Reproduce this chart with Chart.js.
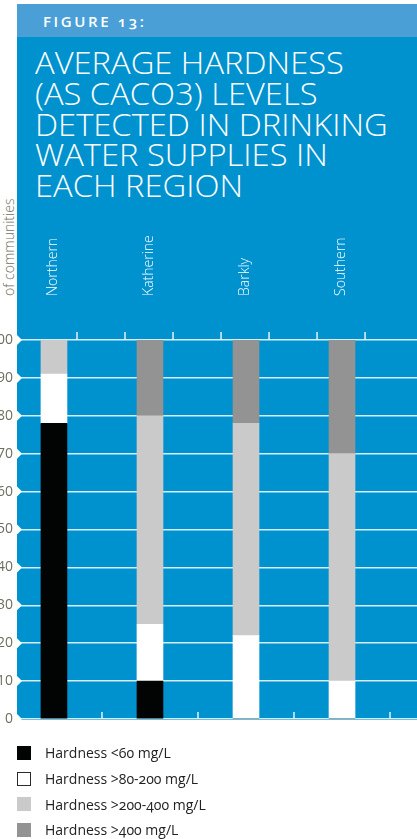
<!DOCTYPE html>
<html>
<head>
<meta charset="utf-8">
<script src="https://cdn.jsdelivr.net/npm/chart.js@4.4.0/dist/chart.umd.min.js"></script>
<style>
  body { margin: 0; background: #fff; font-family: 'Open Sans', sans-serif; }
  #page { position: relative; width: 417px; height: 839px; overflow: hidden; }
  .band { position: absolute; left: 17px; top: 4px; width: 400px; height: 33px; background: #4a9fd7; }
  .panel { position: absolute; left: 17px; top: 37px; width: 400px; height: 683px; background: #0092cf; }
  .fig { position: absolute; left: 43px; top: 11px; color: #fff; font-weight: 600; font-size: 15px;
         letter-spacing: 2.6px; line-height: 20px; font-feature-settings: "onum"; }
  h1 { position: absolute; left: 35px; top: 47px; margin: 0; color: #fff; font-weight: 300; font-size: 31px;
       line-height: 30.8px; white-space: nowrap; transform-origin: 0 0; transform: scaleX(1.055); }
  #ytitle { position: absolute; left: 2px; top: 296px; color: #6e6e60; font-size: 14px; font-weight: 300;
            line-height: 14px; white-space: nowrap; transform-origin: 0 0; transform: rotate(-90deg); }
  #wrap { position: absolute; left: 0; top: 0; width: 417px; height: 839px; }
  #legend { position: absolute; left: 17px; top: 740px; }
  .item { display: flex; align-items: center; height: 25.7px; font-size: 14px; color: #222;
          font-feature-settings: "onum"; }
  .box { width: 14px; height: 14px; box-sizing: border-box; margin-right: 14px; }
</style>
</head>
<body>
<div id="page">
  <div class="band"></div>
  <div class="panel"></div>
  <div class="fig">FIGURE 13:</div>
  <h1>AVERAGE HARDNESS<br>(AS CACO3) LEVELS<br>DETECTED IN DRINKING<br>WATER SUPPLIES IN<br>EACH REGION</h1>
  <div id="ytitle">of communities</div>
  <div id="wrap"><canvas id="myChart"></canvas></div>
  <div id="legend"></div>
</div>
<script>
const regions = ['Northern', 'Katherine', 'Barkly', 'Southern'];
const yTicks = [0, 10, 20, 30, 40, 50, 60, 70, 80, 90, 100];
const under60 = [78, 10, 0, 0];
const from80to200 = [13, 15, 22, 10];
const from200to400 = [9, 55, 56, 60];
const over400 = [0, 20, 22, 30];

const seriesNames = ['Hardness <60 mg/L', 'Hardness >80-200 mg/L', 'Hardness >200-400 mg/L', 'Hardness >400 mg/L'];
const seriesColors = ['#020404', '#ffffff', '#cacaca', '#939393'];

let toPoints = (vals) => vals.map((v, i) => ({ x: i, y: v }));

// notches on the left edge and the small white tick marks
const decor = {
  id: 'decor',
  afterDatasetsDraw(chart) {
    const { ctx, chartArea, scales } = chart;
    ctx.save();
    ctx.fillStyle = '#fff';
    scales.y.ticks.forEach(t => {
      const y = scales.y.getPixelForValue(t.value);
      ctx.beginPath();
      ctx.moveTo(chartArea.left, y - 5);
      ctx.lineTo(chartArea.left + 5, y);
      ctx.lineTo(chartArea.left, y + 5);
      ctx.fill();
    });
    ctx.strokeStyle = '#e6f4fb';
    ctx.lineWidth = 1.5;
    regions.forEach((r, i) => {
      const x = scales.x.getPixelForValue(i + 0.5);
      ctx.beginPath();
      ctx.moveTo(x, chartArea.bottom);
      ctx.lineTo(x, chartArea.bottom - 7);
      ctx.stroke();
    });
    for (let k = 0; k < 7; k++) {
      const x = scales.x.getPixelForValue(0.24 + k * 0.5);
      ctx.beginPath();
      ctx.moveTo(x, chartArea.top);
      ctx.lineTo(x, chartArea.top - 8);
      ctx.stroke();
    }
    ctx.restore();
  }
};

const ctx = document.getElementById('myChart');
const values = [under60, from80to200, from200to400, over400];

const chart = new Chart(ctx, {
  type: 'bar',
  data: {
    datasets: values.map((vals, i) => ({
      label: seriesNames[i],
      data: toPoints(vals),
      backgroundColor: seriesColors[i],
      borderWidth: 0,
      barThickness: 26
    }))
  },
  options: {
    responsive: true,
    maintainAspectRatio: false,
    animation: false,
    layout: { padding: { top: 0, left: 0, right: 0, bottom: 120 } },
    plugins: { legend: { display: false }, tooltip: { enabled: false } },
    scales: {
      x: {
        type: 'linear',
        position: 'top',
        stacked: true,
        offset: false,
        min: -0.385,
        max: 3.781,
        grid: { display: false, drawTicks: false, offset: false },
        border: { display: false },
        afterBuildTicks: (s) => { s.ticks = regions.map((r, i) => ({ value: i })); },
        afterFit: (s) => { s.height = 340; },
        ticks: {
          autoSkip: false,
          minRotation: 90,
          maxRotation: 90,
          padding: 44,
          color: '#ffffff',
          font: { family: 'Open Sans', size: 14, weight: '300', lineHeight: 0.1 },
          callback: (v) => regions[v]
        }
      },
      y: {
        stacked: true,
        min: 0,
        max: 100,
        afterBuildTicks: (s) => { s.ticks = yTicks.map(v => ({ value: v })); },
        afterFit: (s) => { s.width = 17; },
        grid: { color: '#d6edf8', lineWidth: 1.5, drawTicks: false },
        border: { display: false },
        ticks: {
          padding: 4,
          color: '#6e6e60',
          font: { family: 'Open Sans', size: 14 }
        }
      }
    }
  },
  plugins: [decor]
});

// legend drawn from the chart datasets
const legend = document.getElementById('legend');
chart.data.datasets.forEach(ds => {
  const row = document.createElement('div');
  row.className = 'item';
  const box = document.createElement('span');
  box.className = 'box';
  box.style.background = ds.backgroundColor;
  if (ds.backgroundColor === '#ffffff') box.style.border = '1px solid #2a2a2a';
  const txt = document.createElement('span');
  txt.textContent = ds.label;
  row.appendChild(box);
  row.appendChild(txt);
  legend.appendChild(row);
});
</script>
</body>
</html>
